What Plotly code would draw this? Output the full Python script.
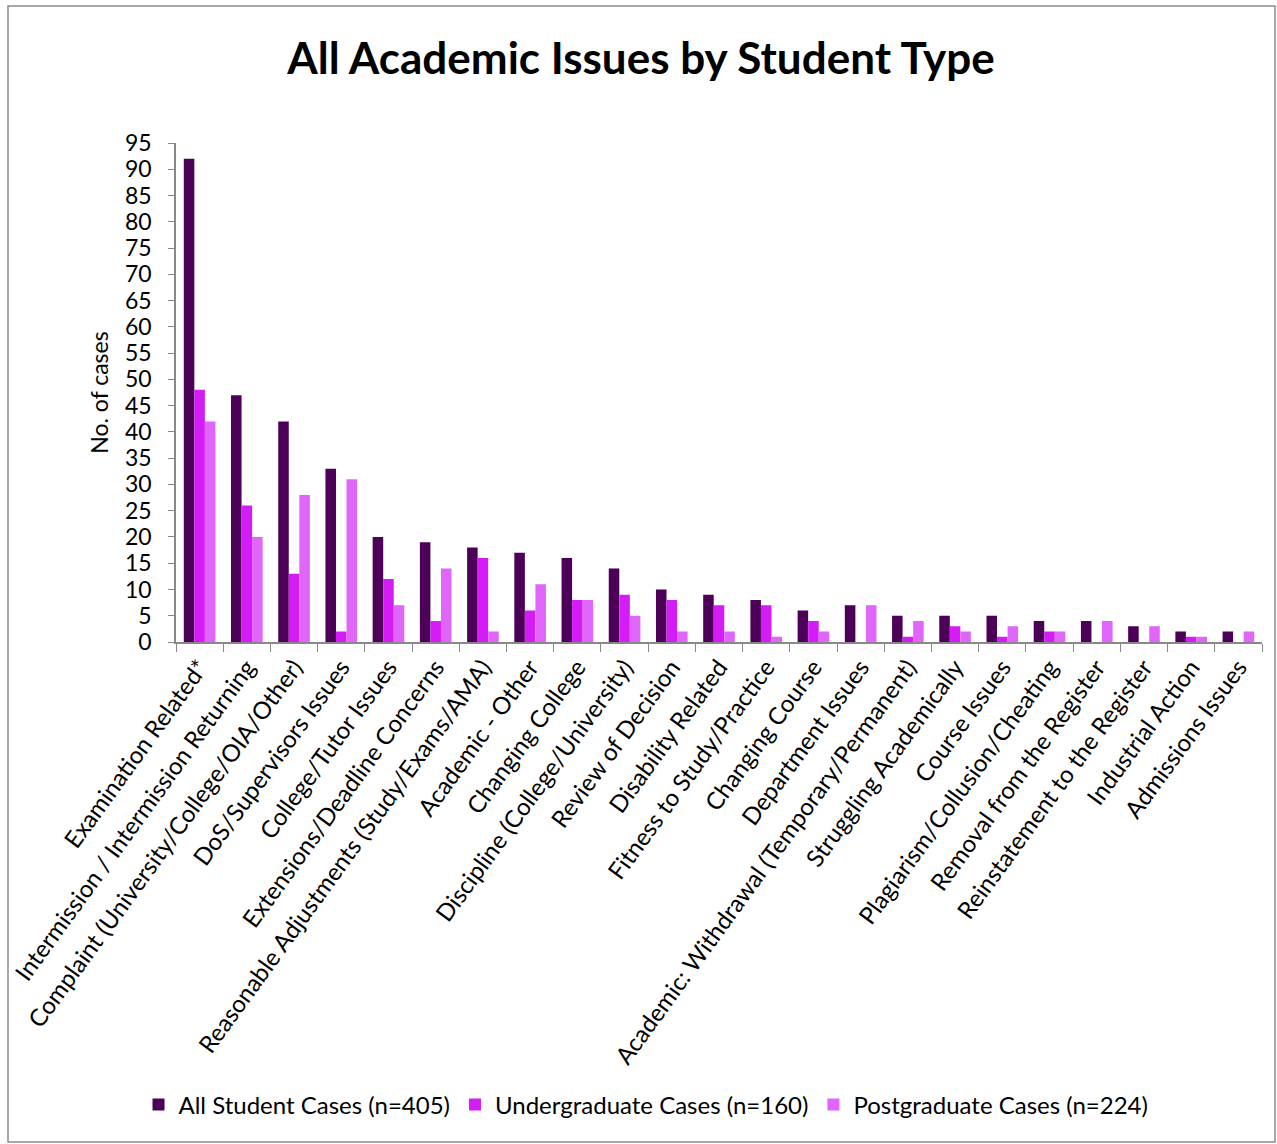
import plotly.graph_objects as go

categories = [
    "Examination Related*",
    "Intermission / Intermission Returning",
    "Complaint (University/College/OIA/Other)",
    "DoS/Supervisors Issues",
    "College/Tutor Issues",
    "Extensions/Deadline Concerns",
    "Reasonable Adjustments (Study/Exams/AMA)",
    "Academic - Other",
    "Changing College",
    "Discipline (College/University)",
    "Review of Decision",
    "Disability Related",
    "Fitness to Study/Practice",
    "Changing Course",
    "Department Issues",
    "Academic: Withdrawal (Temporary/Permanent)",
    "Struggling Academically",
    "Course Issues",
    "Plagiarism/Collusion/Cheating",
    "Removal from the Register",
    "Reinstatement to the Register",
    "Industrial Action",
    "Admissions Issues",
]
all_cases = [92, 47, 42, 33, 20, 19, 18, 17, 16, 14, 10, 9, 8, 6, 7, 5, 5, 5, 4, 4, 3, 2, 2]
ug_cases = [48, 26, 13, 2, 12, 4, 16, 6, 8, 9, 8, 7, 7, 4, 0, 1, 3, 1, 2, 0, 0, 1, 0]
pg_cases = [42, 20, 28, 31, 7, 14, 2, 11, 8, 5, 2, 2, 1, 2, 7, 4, 2, 3, 2, 4, 3, 1, 2]

series = [
    ("All Student Cases (n=405)", all_cases, "#4D0057"),
    ("Undergraduate Cases (n=160)", ug_cases, "#D41CF7"),
    ("Postgraduate Cases (n=224)", pg_cases, "#E066FB"),
]

FONT = "Lato"

fig = go.Figure()
for name, vals, color in series:
    fig.add_trace(go.Bar(x=categories, y=vals, name=name, marker_color=color,
                         marker_line_width=0))

# plot area edges in pixels
L, R, T, B = 176, 1262, 143, 642
W, H = R - L, B - T
def px(x):
    return (x - L) / W
def py(y):
    return (B - y) / H

# outer chart border
fig.add_shape(type="rect", xref="paper", yref="paper",
              x0=px(8), x1=px(1275), y0=py(1142), y1=py(6),
              line=dict(color="#8c8c8c", width=1.5), fillcolor="rgba(0,0,0,0)")

fig.update_layout(
    width=1277, height=1144,
    margin=dict(l=L, r=1277 - R, t=T, b=1144 - B),
    paper_bgcolor="white", plot_bgcolor="white",
    barmode="group", bargap=0.33, bargroupgap=0,
    font=dict(family=FONT, color="black"),
    title=dict(text="<b>All Academic Issues by Student Type</b>",
               x=641 / 1277, xanchor="center", xref="container",
               y=1 - 59 / 1144, yanchor="middle", yref="container",
               font=dict(size=44, family=FONT, color="black")),
    legend=dict(orientation="h", x=646 / 1277, xanchor="center", xref="container",
                y=1 - 1105 / 1144, yanchor="middle", yref="container",
                font=dict(size=24, family=FONT), itemwidth=30,
                bgcolor="rgba(0,0,0,0)", traceorder="normal"),
    xaxis=dict(tickangle=-54, tickfont=dict(size=24, family=FONT),
               showline=True, linecolor="#888888", linewidth=1.5,
               ticks="outside", tickson="boundaries", ticklen=8,
               tickcolor="#888888", showgrid=False, automargin=False),
    yaxis=dict(range=[0, 95], dtick=5, tickfont=dict(size=23, family=FONT),
               showline=True, linecolor="#888888", linewidth=1.5,
               ticks="outside", ticklen=6, tickcolor="#888888",
               ticklabelstandoff=12,
               showgrid=False, zeroline=False, automargin=False,
               title=dict(text="No. of cases", font=dict(size=23, family=FONT),
                          standoff=10)),
)

fig.write_html("out.html")
